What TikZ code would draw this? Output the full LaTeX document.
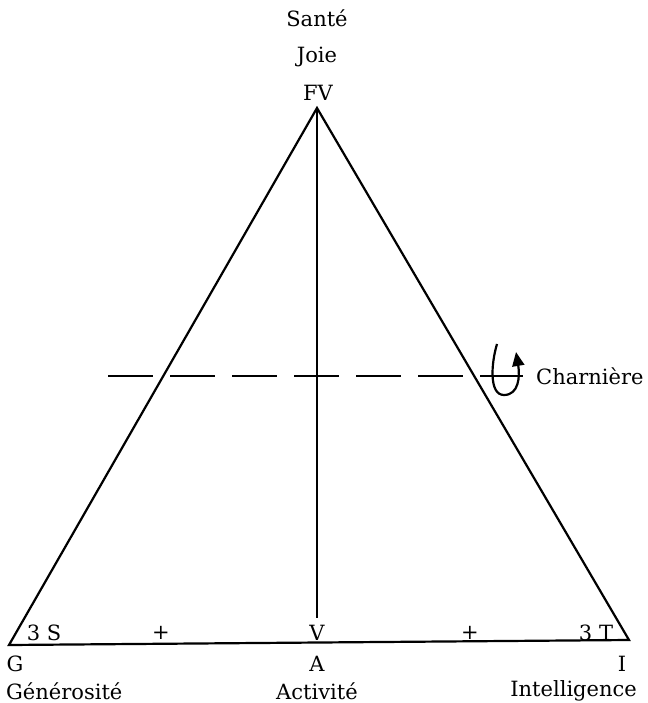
\documentclass[tikz,border=0pt]{standalone}
\usepackage{fontspec}
\setmainfont{DejaVu Serif}
\usetikzlibrary{arrows.meta}
\begin{document}
\begin{tikzpicture}[x=1pt,y=-1pt,
  lbl/.style={font=\fontsize{21}{25}\selectfont, inner sep=0pt},
  edge/.style={line width=2.2pt, line join=miter},
  hinge/.style={line width=2.2pt, dash pattern=on 45pt off 17pt}]
\useasboundingbox (0,0) rectangle (647,703);
% corners
\coordinate (apex) at (317,108);
\coordinate (gc) at (9,645);
\coordinate (ic) at (629,640);
\coordinate (vb) at (317,618);
\coordinate (hl) at (108,376);
\coordinate (hr) at (523,376);
% triangle and axis
\draw[edge] (gc) -- (apex) -- (ic) -- cycle;
\draw[edge] (apex) -- (vb);
\draw[hinge] (hl) -- (hr);
% rotation hook
\draw[line width=2.2pt, -{Triangle[length=14pt,width=12pt]}]
  (497,344) .. controls (491,364) and (489,395) .. (504,395)
  .. controls (519,395) and (520,376) .. (516,352);
% labels
\node[lbl] (sante) at (317,18) {Santé};
\node[lbl] (joie) at (317,57) {Joie};
\node[lbl] (fv) at (318,93) {FV};
\node[lbl,anchor=west] (charn) at (536,376) {Charnière};
\node[lbl] (s3) at (44,633) {3 S};
\node[lbl] (p1) at (161,633) {+};
\node[lbl] (v) at (317,633) {V};
\node[lbl] (p2) at (470,633) {+};
\node[lbl] (t3) at (596,633) {3 T};
\node[lbl] (g) at (15,664) {G};
\node[lbl] (a) at (317,664) {A};
\node[lbl] (i) at (622,664) {I};
\node[lbl,anchor=west] (gen) at (6,691) {Générosité};
\node[lbl] (act) at (317,691) {Activité};
\node[lbl,anchor=east] (int) at (637,691) {Intelligence};
\end{tikzpicture}
\end{document}
